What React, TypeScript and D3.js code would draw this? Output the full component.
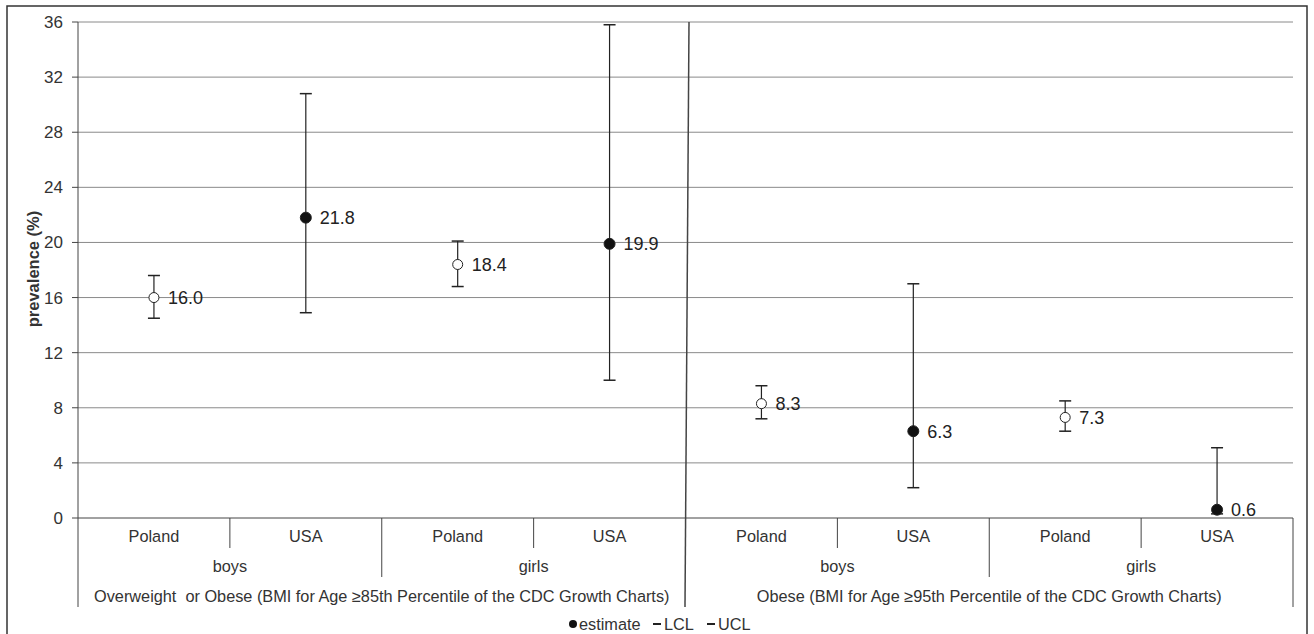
import React from 'react';
import * as d3 from 'd3';

// data
const groups = ['Overweight  or Obese (BMI for Age \u226585th Percentile of the CDC Growth Charts)', 'Obese (BMI for Age \u226595th Percentile of the CDC Growth Charts)'];
const sexes = ['boys', 'girls'];
const countries = ['Poland', 'USA'];
const estimate = [16.0, 21.8, 18.4, 19.9, 8.3, 6.3, 7.3, 0.6];
const lcl = [14.5, 14.9, 16.8, 10.0, 7.2, 2.2, 6.3, 0.3];
const ucl = [17.6, 30.8, 20.1, 35.8, 9.6, 17.0, 8.5, 5.1];
const yTicks = [0, 4, 8, 12, 16, 20, 24, 28, 32, 36];

const W = 1314;
const H = 634;
const left = 78, right = 1293, top = 22, bottom = 518;
const font = 'Liberation Sans, Arial, sans-serif';

const App = () => {
  const cats = d3.range(8);
  const x = d3.scaleBand<number>().domain(cats).range([left, right]);
  const y = d3.scaleLinear().domain([0, 36]).range([bottom, top]);
  const bw = x.bandwidth();
  const edge = (i: number) => left + i * bw;

  const ink = '#222';
  const grid = '#8a8a8a';
  const fs = 16.3;

  return (
    <svg width={W} height={H} style={{ position: 'absolute', left: 0, top: 0 }} fontFamily={font}>
      <rect x={7} y={6} width={1300} height={640} fill="#fff" stroke="#333" strokeWidth={1.5} />
      {/* gridlines */}
      {yTicks.map(t => (
        <g key={t}>
          <line x1={left} x2={right} y1={y(t)} y2={y(t)} stroke={t === 0 ? '#444' : grid} strokeWidth={1} />
          <line x1={left - 6} x2={left} y1={y(t)} y2={y(t)} stroke="#444" />
          <text x={left - 15} y={y(t)} dy="0.35em" textAnchor="end" fontSize={17} fill="#333">{t}</text>
        </g>
      ))}
      <line x1={left} x2={left} y1={top} y2={607} stroke="#444" />
      <line x1={right} x2={right} y1={bottom} y2={607} stroke="#444" />
      <text transform={`translate(39,${269}) rotate(-90)`} textAnchor="middle" fontSize={16.5} fontWeight="bold" fill="#333">prevalence (%)</text>

      {/* category separators */}
      {d3.range(1, 8).map(i => {
        if (i === 4) return null;
        const y2 = i % 2 === 1 ? 548 : 577;
        return <line key={i} x1={edge(i)} x2={edge(i)} y1={bottom} y2={y2} stroke="#444" />;
      })}
      {/* main divider */}
      <line x1={689} x2={685} y1={top} y2={607} stroke="#444" strokeWidth={1.5} />

      {/* category labels */}
      {cats.map(i => (
        <text key={i} x={x(i)! + bw / 2} y={536} dy="0.35em" textAnchor="middle" fontSize={fs} fill="#333">{countries[i % 2]}</text>
      ))}
      {d3.range(4).map(j => (
        <text key={j} x={edge(j * 2) + bw} y={566} dy="0.35em" textAnchor="middle" fontSize={fs} fill="#333">{sexes[j % 2]}</text>
      ))}
      {groups.map((g, k) => (
        <text key={k} x={edge(k * 4) + bw * 2} y={596} dy="0.35em" textAnchor="middle" fontSize={fs} fill="#333" style={{ whiteSpace: 'pre' }}>{g}</text>
      ))}

      {/* error bars and estimates */}
      {cats.map(i => {
        const cx = x(i)! + bw / 2;
        const open = i % 2 === 0;
        return (
          <g key={i}>
            <line x1={cx} x2={cx} y1={y(lcl[i])} y2={y(ucl[i])} stroke={ink} strokeWidth={1.2} />
            <line x1={cx - 6} x2={cx + 6} y1={y(ucl[i])} y2={y(ucl[i])} stroke={ink} strokeWidth={1.5} />
            <line x1={cx - 6} x2={cx + 6} y1={y(lcl[i])} y2={y(lcl[i])} stroke={ink} strokeWidth={1.5} />
            <circle cx={cx} cy={y(estimate[i])} r={open ? 5 : 5.5} fill={open ? '#fff' : '#111'} stroke={ink} strokeWidth={1} />
            <text x={cx + 14} y={y(estimate[i])} dy="0.35em" fontSize={18} fill="#222">{estimate[i].toFixed(1)}</text>
          </g>
        );
      })}

      {/* legend */}
      <g transform="translate(0,624)">
        <circle cx={573} cy={0} r={4} fill="#111" />
        <text x={579} y={0} dy="0.35em" fontSize={16.3} fill="#333">estimate</text>
        <line x1={653} x2={661} y1={0} y2={0} stroke="#222" strokeWidth={2} />
        <text x={664} y={0} dy="0.35em" fontSize={16.3} fill="#333">LCL</text>
        <line x1={707} x2={715} y1={0} y2={0} stroke="#222" strokeWidth={2} />
        <text x={718} y={0} dy="0.35em" fontSize={16.3} fill="#333">UCL</text>
      </g>
    </svg>
  );
};

export default App;
